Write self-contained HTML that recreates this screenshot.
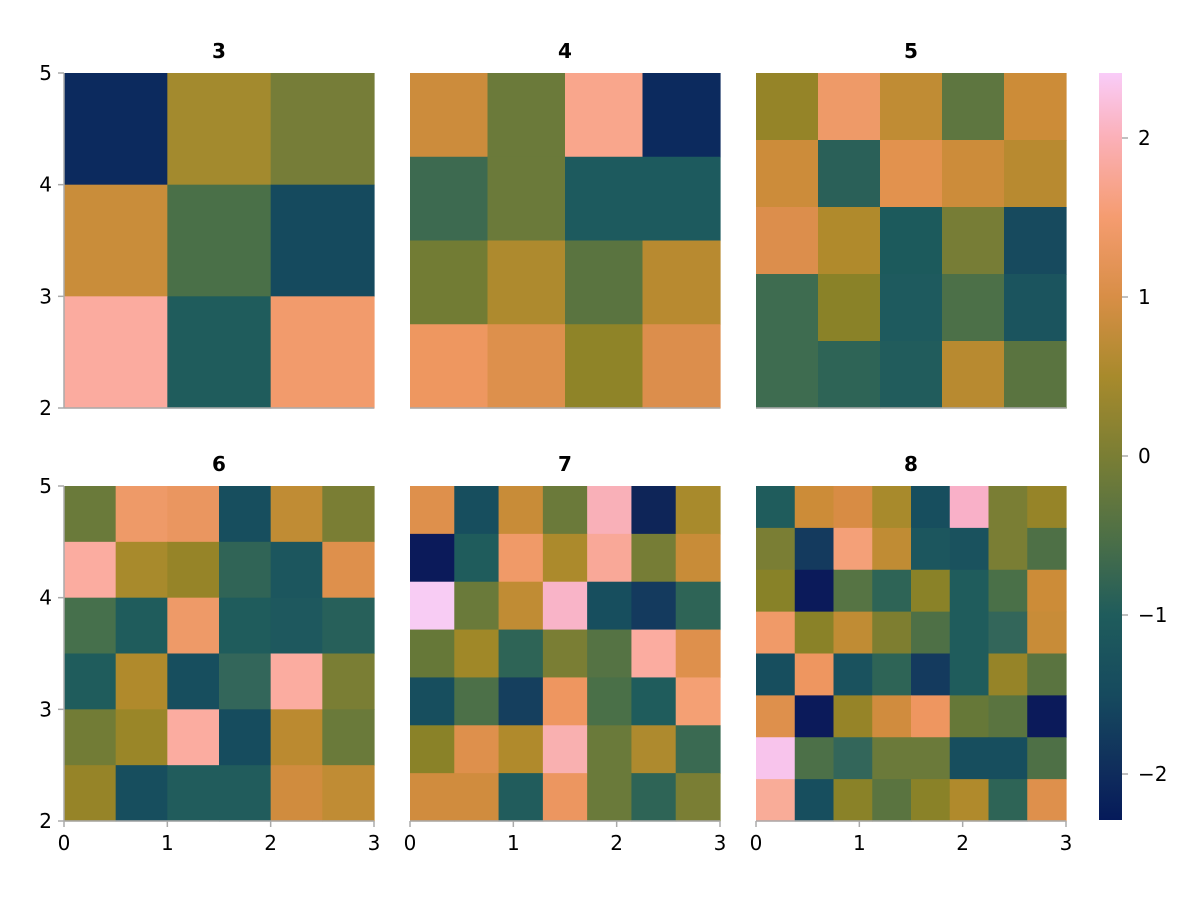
<!DOCTYPE html>
<html><head><meta charset="utf-8"><style>
html,body{margin:0;padding:0;background:#fff;}
svg text{font-family:"DejaVu Sans","Liberation Sans",sans-serif;}
</style></head><body>
<svg id="s" width="1200" height="900" xmlns="http://www.w3.org/2000/svg">
<defs><linearGradient id="cb" x1="0" y1="0" x2="0" y2="1">
<stop offset="0" stop-color="#f9ccf9"/><stop offset="0.087" stop-color="#fbb0b8"/>
<stop offset="0.193" stop-color="#f59c70"/><stop offset="0.300" stop-color="#d88e46"/>
<stop offset="0.406" stop-color="#a88a2c"/><stop offset="0.513" stop-color="#7a7e34"/>
<stop offset="0.619" stop-color="#4e7046"/><stop offset="0.726" stop-color="#1f5c5c"/>
<stop offset="0.832" stop-color="#164a5e"/><stop offset="0.938" stop-color="#0f2c5c"/>
<stop offset="1" stop-color="#051a5a"/></linearGradient></defs>
<rect x="1099" y="73" width="23" height="747" fill="url(#cb)"/>
</svg>
<script>
var P=[
["#0c2a5e #a38a2e #767d38","#c98d3a #4a7048 #154a5e","#fbab9f #1f5c5c #f29b6c"],
["#cc8c3c #6b7a3a #f9a68c #0c2a5e","#3d6a50 #6b7a3a #1d5a5e #1d5a5e","#727c34 #ae8a2e #5a7440 #b88a30","#ee9760 #dd904c #8f8428 #dc8e4c"],
["#958428 #ee9a68 #c08c34 #5e7640 #cc8c38","#cc8c3a #2a6058 #e2924e #cc8c3a #b88a30","#dc8e4c #b08a2c #1c5a5c #777d36 #174a5e","#3e6c50 #8a8228 #1e5a5e #4c7048 #1b545e","#3e6c50 #2e6456 #215c5c #b88a30 #5a7440"],
["#6a7a3a #ee9a68 #ea9660 #174e5e #c08c34 #7a7e34","#fbaca0 #a88a2c #968428 #306456 #1c565e #de904c","#46704c #1f5c5c #ee9a68 #1f5c5c #1e585e #27605a","#1f5c5c #b08a2c #174e5e #33665a #fbaca0 #7a7e34","#727c36 #9a8628 #fbaca0 #164c5e #bb8a30 #6a7a3a","#968428 #174e5e #215c5c #215c5c #d08c3e #c08c34"],
["#de904c #174e5e #c88c38 #6b7a3a #f9b0b8 #0e2558 #a88a2c","#0b1a5a #1f5c5c #f09a68 #ac8a2c #f9a898 #767d36 #c88c38","#f8ccf4 #6a7a3a #c08c34 #f9b4c8 #174e5e #143a5e #2e6456","#667838 #a08828 #2e6456 #7a7e34 #557344 #fbaca0 #de904c","#174e5e #4c7048 #153f5e #ee9660 #4a7048 #1f5c5c #f4a074","#8a8228 #de904c #b08a2c #f9b0b0 #6a7a3a #ae8a2e #3a6a52","#d08c3e #d08c3e #215c5c #ec9660 #6a7a3a #2e6456 #7a7e34"],
["#1f5c5c #cc8c38 #d88c44 #a88a2c #174e5e #f9b0c8 #7a7e34 #968428","#7a7e34 #143a5e #f4a078 #c08c34 #1c565e #1a525e #7a7e34 #4e7046","#888228 #0b1a5a #567444 #2e6456 #8a8228 #1f5c5c #4a7048 #cc8c38","#f09a68 #8a8228 #c08c34 #7e7e30 #4e7046 #1f5c5c #33665a #c88c38","#174e5e #ee9660 #1a525e #2e6456 #143a5e #1f5c5c #968428 #5a7440","#de904c #0b1a5a #968428 #d08c3e #ee9660 #667838 #5a7440 #0b1a5a","#f8c4ec #4c7048 #33665a #6b7a3a #6b7a3a #174e5e #174e5e #4e7046","#f9ac98 #174e5e #8a8228 #5a7440 #8a8228 #b08a2c #2e6456 #de904c"]];
var X=[64,410,756],Y=[73,486],W=310,H=335,s=document.getElementById('s'),h='';
function L(x1,y1,x2,y2){return '<line x1="'+x1+'" y1="'+y1+'" x2="'+x2+'" y2="'+y2+'" stroke="#aaa" stroke-width="1.5"/>';}
function T(x,y,t,a,b){return '<text x="'+x+'" y="'+y+'" font-size="20" text-anchor="'+a+'"'+(b?' font-weight="bold"':'')+' fill="#000">'+t+'</text>';}
for(var p=0;p<6;p++){var x0=X[p%3],y0=Y[Math.floor(p/3)],g=P[p],n=g.length;
 for(var r=0;r<n;r++){var c=g[r].split(' ');for(var k=0;k<n;k++){
  var xa=x0+W*k/n,xb=x0+W*(k+1)/n,ya=y0+H*r/n,yb=y0+H*(r+1)/n;
  h+='<rect x="'+xa.toFixed(2)+'" y="'+ya.toFixed(2)+'" width="'+(xb-xa+0.6).toFixed(2)+'" height="'+(yb-ya+0.6).toFixed(2)+'" fill="'+c[k]+'"/>';}}
 h+=T(x0+W/2,y0-15,p+3,'middle',1);
 h+=L(x0,y0+H,x0+W,y0+H);
 if(p%3==0){h+=L(x0,y0,x0,y0+H);for(var v=0;v<4;v++){var yy=y0+H-H*v/3;h+=L(x0-6,yy,x0,yy);h+=T(x0-12,yy+7,2+v,'end');}}
 if(p>=3){for(var v=0;v<4;v++){var xx=x0+W*v/3;h+=L(xx,y0+H,xx,y0+H+6);h+=T(xx,y0+H+29,v,'middle');}}
}
var lab=['2','1','0','\u22122'.replace('\u2212','\u2212'),'\u22122'];lab=['2','1','0','\u22121','\u22122'];
for(var i=0;i<5;i++){var yy=138+159*i;h+=L(1122,yy,1128,yy);h+=T(1138,yy+7,lab[i],'start');}
s.insertAdjacentHTML('beforeend',h);
</script>
</body></html>
